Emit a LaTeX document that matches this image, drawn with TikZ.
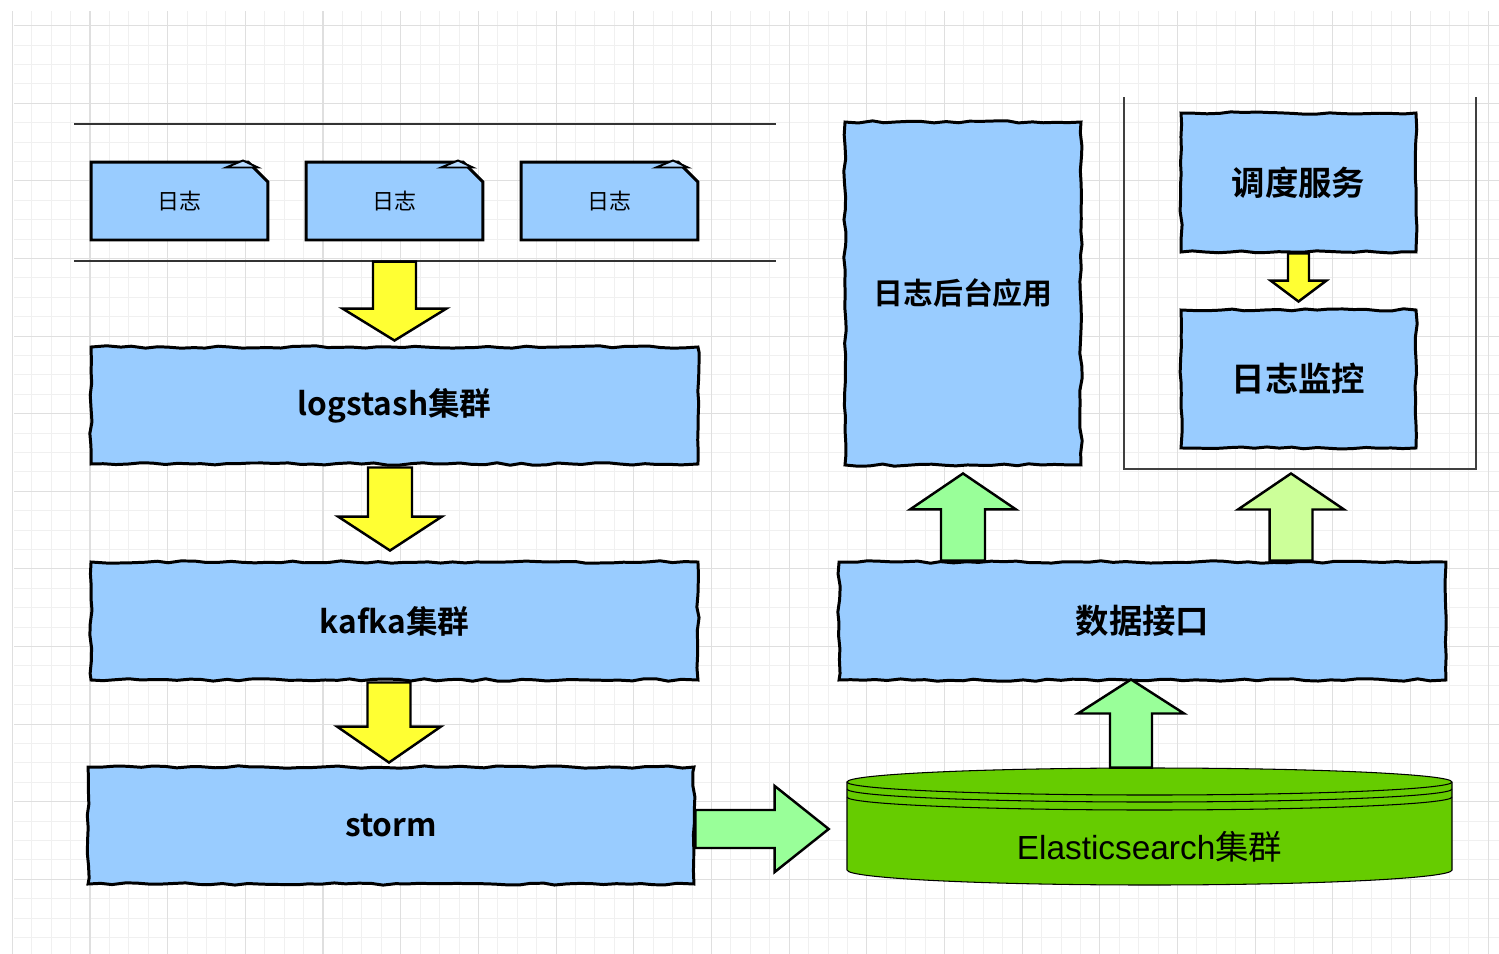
\documentclass[tikz,border=0pt]{standalone}
\usepackage{fontspec}
\newfontfamily\cjk{Noto Sans CJK SC}
\newfontfamily\cjkbold{Noto Sans CJK SC Bold}
\newfontfamily\esfont{Liberation Sans}
\usetikzlibrary{calc,shapes.misc,decorations.pathmorphing}

\definecolor{boxblue}{HTML}{99CCFF}
\definecolor{flechaamarilla}{HTML}{FFFF33}
\definecolor{flechaverde}{HTML}{99FF99}
\definecolor{flechaclara}{HTML}{CCFF99}
\definecolor{esverde}{HTML}{66CC00}

\tikzset{
    gridminor/.style={draw=gray!12, line width=0.5pt},
    gridmajor/.style={draw=gray!25, line width=0.6pt},
    sketchbox/.style={draw=black, line width=1.7pt, fill=boxblue, rectangle,
        decorate, decoration={random steps, segment length=7pt, amplitude=0.7pt},
        inner sep=0pt,
        font={\cjkbold\fontsize{18}{20}\selectfont}},
    bigtext/.style={font={\cjkbold\fontsize{19}{21}\selectfont}},
    notebox/.style={draw=black, line width=1.7pt, fill=boxblue, chamfered rectangle,
        chamfered rectangle corners=north east, chamfered rectangle xsep=0.5cm,
        chamfered rectangle ysep=0.2cm, inner sep=0pt,
        minimum width=3.54cm, minimum height=1.56cm,
        font={\cjk\fontsize{12.5}{14}\selectfont}},
    fold/.style={draw=black, line width=1.1pt, fill=boxblue!70!white, line join=miter},
    yarrow/.style={draw=black, line width=1.4pt, fill=flechaamarilla, line join=miter},
    garrow/.style={draw=black, line width=1.4pt, fill=flechaverde, line join=miter},
    larrow/.style={draw=black, line width=1.4pt, fill=flechaclara, line join=miter},
    rowline/.style={draw=black!80, line width=0.6pt},
    frame/.style={draw=black!75, line width=0.8pt},
}

% flecha gruesa: [estilo]{inicio}{punta}{medio ancho cuerpo}{medio ancho cabeza}{largo cabeza}
\newcommand{\fatarrow}[6][]{%
    \path (#2) coordinate (fa-s) (#3) coordinate (fa-e);
    \path ($(fa-e)!#6!(fa-s)$) coordinate (fa-n);
    \filldraw[#1] ($(fa-s)!#4!90:(fa-e)$) -- ($(fa-n)!#4!90:(fa-e)$) -- ($(fa-n)!#5!90:(fa-e)$)
        -- (fa-e) -- ($(fa-n)!#5!-90:(fa-e)$) -- ($(fa-n)!#4!-90:(fa-e)$) -- ($(fa-s)!#4!-90:(fa-e)$) -- cycle;}

\begin{document}
\begin{tikzpicture}[x=0.02cm, y=-0.02cm] %Arquitectura de logs
            \pgfmathsetseed{7}
            \fill[white] (0,0) rectangle (1499,954);
            \useasboundingbox (0,0) rectangle (1499,954);

            % cuadricula
            \foreach \i in {0,...,76} \draw[gridminor] ({12.3+19.42*\i},11) -- ({12.3+19.42*\i},954);
            \foreach \j in {0,...,47} \draw[gridminor] (14,{25.7+19.4*\j}) -- (1499,{25.7+19.4*\j});
            \foreach \i in {0,...,19} \draw[gridmajor] ({12.3+77.68*\i},11) -- ({12.3+77.68*\i},954);
            \foreach \j in {0,...,11} \draw[gridmajor] (14,{25.7+77.6*\j}) -- (1499,{25.7+77.6*\j});

            % fila de logs
            \draw[rowline] (74,124) -- (776,124);
            \draw[rowline] (74,261) -- (776,261);
            \foreach \n/\x in {log1/179.5, log2/394.5, log3/609.5} {
                \node[notebox] (\n) at (\x,201) {日志};
                \filldraw[fold] ($(\n.north)+(63.5,0)$) -- ++(-17,7) -- ++(32,0) -- cycle;
            }

            % columna izquierda
            \node[sketchbox, minimum width=12.14cm, minimum height=2.34cm] (logstash) at (394.5,405.5) {logstash集群};
            \node[sketchbox, minimum width=12.14cm, minimum height=2.36cm] (kafka) at (394.5,621) {kafka集群};
            \node[sketchbox, minimum width=12.12cm, minimum height=2.34cm] (storm) at (391,825.5) {storm};

            % columna derecha
            \node[sketchbox, font={\cjkbold\fontsize{17}{19}\selectfont}, minimum width=4.72cm, minimum height=6.86cm] (backend) at (963,293.5) {日志后台应用};
            \node[sketchbox, bigtext, minimum width=12.14cm, minimum height=2.36cm] (api) at (1142.5,621) {数据接口};
            \draw[frame] (1124,97) -- (1124,469) -- (1476,469) -- (1476,97);
            \node[sketchbox, bigtext, minimum width=4.7cm, minimum height=2.78cm] (sched) at (1298.5,182.5) {调度服务};
            \node[sketchbox, bigtext, minimum width=4.7cm, minimum height=2.76cm] (monitor) at (1298.5,379) {日志监控};

            % cilindro Elasticsearch
            \node[minimum width=12.1cm, minimum height=2.34cm, inner sep=0pt] (es) at (1149.5,826.5) {};
            \filldraw[draw=black, line width=0.6pt, fill=esverde] (847,782) -- (847,870)
                arc[start angle=180, end angle=0, x radius=302.5, y radius=15] -- (1452,782)
                arc[start angle=0, end angle=-180, x radius=302.5, y radius=14] -- cycle;
            \draw[line width=0.6pt] (847,782) arc[start angle=180, end angle=0, x radius=302.5, y radius=13];
            \draw[line width=0.6pt] (847,789) arc[start angle=180, end angle=0, x radius=302.5, y radius=13];
            \draw[line width=0.6pt] (847,797) arc[start angle=180, end angle=0, x radius=302.5, y radius=13];
            \node[font={\esfont\fontsize{19}{21}\selectfont}] (eslabel) at ($(es.center)+(0,20.5)$) {Elasticsearch{\cjk 集群}};

            % flechas
            \fatarrow[yarrow]{$(logstash.north)+(0,-84)$}{$(logstash.north)+(0,-5)$}{12.23pt}{29.59pt}{18.21pt}
            \fatarrow[yarrow]{$(logstash.south)+(-4.5,2)$}{$(kafka.north)+(-4.5,-10)$}{12.52pt}{29.59pt}{19.35pt}
            \fatarrow[yarrow]{$(kafka.south)+(-5.5,1)$}{$(storm.north)+(-2,-3)$}{12.23pt}{29.59pt}{20.49pt}
            \fatarrow[garrow]{$(storm.east)+(0,3.5)$}{$(es.west)+(-18,2.5)$}{10.81pt}{24.47pt}{30.73pt}
            \fatarrow[garrow]{$(es.north)+(-18.5,0)$}{$(api.south)+(-11.5,-2)$}{11.95pt}{30.16pt}{19.35pt}
            \fatarrow[garrow]{api.north -| backend.south}{$(backend.south)+(0,7)$}{12.52pt}{30.16pt}{20.49pt}
            \fatarrow[larrow]{$(api.north)+(148.5,0)$}{$(monitor.south)+(-7.5,24)$}{12.23pt}{30.16pt}{20.49pt}
            \fatarrow[yarrow]{sched.south}{$(monitor.north)+(0,-7)$}{5.98pt}{15.93pt}{11.95pt}
        \end{tikzpicture}
\end{document}
